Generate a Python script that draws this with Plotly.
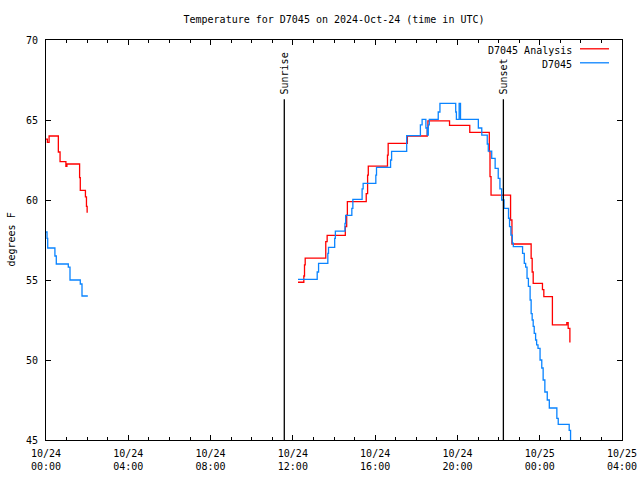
import plotly.graph_objects as go

# ---- data ----
analysis_day1_t = ["00:00", "00:04", "00:09", "00:36", "00:41", "00:58", "01:01", "01:38", "01:40", "01:55", "01:58", "02:00"]
analysis_day1_v = [63.8, 63.6, 64.0, 63.0, 62.4, 62.1, 62.25, 61.4, 60.6, 60.2, 59.6, 59.2]

analysis_day1b_t = ["12:15", "12:32", "12:34", "12:36", "13:36", "13:40", "14:33", "14:37", "14:39", "15:34", "15:38", "15:40",
                    "16:36", "16:38", "17:34", "18:32", "18:34", "19:37", "20:36", "21:33", "21:35", "21:38", "22:35", "22:39",
                    "23:35", "23:38", "23:41"]
analysis_day1b_v = [54.86, 55.25, 55.94, 56.37, 57.4, 57.79, 58.33, 59.06, 59.9, 60.4, 61.56, 62.12,
                    62.8, 63.54, 64.0, 64.5, 64.94, 64.66, 64.23, 63.02, 61.46, 60.3, 58.75, 57.25,
                    56.35, 55.5, 54.79]
analysis_day2_t = ["00:08", "00:12", "00:37", "01:19", "01:23", "01:28"]
analysis_day2_v = [54.4, 53.96, 52.19, 52.33, 51.98, 51.1]

obs_day1_t = ["00:00", "00:03", "00:05", "00:26", "00:30", "01:05", "01:10", "01:40", "01:45", "02:02"]
obs_day1_v = [58.0, 57.6, 57.0, 56.5, 56.0, 55.8, 55.0, 54.75, 54.0, 54.0]

obs_day1b_t = ["12:15", "13:11", "13:15", "13:42", "13:44", "14:02", "14:04", "14:32", "14:34", "14:52", "14:55",
               "15:22", "15:25", "16:02", "16:04", "16:45", "16:48", "17:32", "18:12", "18:17", "18:28", "18:32",
               "18:35", "18:38", "19:04", "19:09", "19:55", "19:57", "20:05", "20:09", "21:01", "21:11", "21:27",
               "21:30", "21:40", "21:50", "21:59", "22:04", "22:09", "22:16", "22:29", "22:32", "22:36", "22:40",
               "22:43", "23:10", "23:15", "23:19", "23:23", "23:27", "23:32", "23:35", "23:38", "23:41", "23:44",
               "23:48", "23:51", "23:55"]
obs_day1b_v = [55.04, 55.5, 56.04, 56.67, 57.04, 57.6, 58.06, 58.54, 59.04, 59.48, 60.04,
               60.7, 61.04, 61.56, 62.04, 62.5, 63.04, 64.02, 64.7, 65.04, 64.5, 64.06,
               64.7, 65.04, 65.5, 66.04, 65.5, 65.04, 66.04, 65.04, 64.5, 64.06, 63.5,
               63.06, 62.6, 61.98, 61.35, 60.7, 60.0, 59.48, 58.86, 58.33, 57.8, 57.3,
               57.08, 56.67, 56.04, 55.8, 55.1, 54.6, 53.75, 52.9, 52.5, 52.1, 51.67,
               51.25, 50.94, 50.73]
obs_day2_t = ["00:01", "00:06", "00:10", "00:15", "00:22", "00:28", "00:50", "00:54", "01:26", "01:30"]
obs_day2_v = [50.0, 49.5, 48.75, 48.0, 47.5, 47.0, 46.35, 45.98, 45.6, 44.8]

sunrise_time = "2024-10-24 11:35"
sunset_time = "2024-10-24 22:14"
marker_top = 66.3

y_ticks = [45, 50, 55, 60, 65, 70]

D1 = "2024-10-24 "
D2 = "2024-10-25 "


def build(t1, v1, t1b, v1b, t2, v2):
    xs = [D1 + t for t in t1] + [D1 + "06:00"] + [D1 + t for t in t1b] + [D2 + t for t in t2]
    ys = list(v1) + [None] + list(v1b) + list(v2)
    return xs, ys


ax, ay = build(analysis_day1_t, analysis_day1_v, analysis_day1b_t, analysis_day1b_v, analysis_day2_t, analysis_day2_v)
ox, oy = build(obs_day1_t, obs_day1_v, obs_day1b_t, obs_day1b_v, obs_day2_t, obs_day2_v)

RED = "#ff0000"
BLUE = "#0a84ff"
FONT = "DejaVu Sans Mono"

fig = go.Figure()
fig.add_trace(go.Scatter(x=ax, y=ay, mode="lines", name="D7045 Analysis",
                         line=dict(color=RED, width=1.3, shape="hv"), connectgaps=False))
fig.add_trace(go.Scatter(x=ox, y=oy, mode="lines", name="D7045",
                         line=dict(color=BLUE, width=1.3, shape="hv"), connectgaps=False))

for t, label in [(sunrise_time, "Sunrise"), (sunset_time, "Sunset")]:
    fig.add_shape(type="line", xref="x", yref="y", x0=t, x1=t, y0=45, y1=marker_top,
                  line=dict(color="black", width=1.3))
    fig.add_annotation(x=t, y=marker_top, xref="x", yref="y", text=label, textangle=-90,
                       showarrow=False, yanchor="bottom", xanchor="center", yshift=3,
                       font=dict(family=FONT, size=10, color="black"))

# gnuplot-style key: text then line sample on the right
for i, (name, col) in enumerate([("D7045 Analysis", RED), ("D7045", BLUE)]):
    ypix = 50 + 14 * i
    yp = 1 - (ypix - 40) / 400
    fig.add_annotation(x=(574 - 46) / 576, y=yp, xref="paper", yref="paper", text=name,
                       showarrow=False, xanchor="right", yanchor="middle",
                       font=dict(family=FONT, size=10, color="black"))
    fig.add_shape(type="line", xref="paper", yref="paper",
                  x0=(580 - 46) / 576, x1=(609 - 46) / 576, y0=yp + 0.003, y1=yp + 0.003,
                  line=dict(color=col, width=1.3))

fig.add_annotation(x=0, y=0.5, xref="paper", yref="paper", text="degrees F", textangle=-90,
                   showarrow=False, xshift=-43, font=dict(family=FONT, size=10, color="black"))

fig.update_layout(
    width=640, height=480,
    margin=dict(l=46, r=18, t=40, b=40, autoexpand=False),
    paper_bgcolor="white", plot_bgcolor="white",
    showlegend=False,
    title=dict(text="Temperature for D7045 on 2024-Oct-24 (time in UTC)", x=0.5, xref="paper",
               xanchor="center", y=1 - 19 / 480, yanchor="middle", yref="container",
               font=dict(family=FONT, size=10, color="black")),
    font=dict(family=FONT, size=10, color="black"),
)
fig.update_xaxes(type="date", range=["2024-10-24 00:00", "2024-10-25 04:00"], automargin=False,
                 tick0="2024-10-24 00:00", dtick=4 * 3600 * 1000, tickformat="%m/%d<br>%H:%M",
                 ticks="inside", ticklen=5, tickcolor="black", showline=True, linecolor="black",
                 linewidth=1, mirror="allticks", showgrid=False, zeroline=False, ticklabelstandoff=4,
                 minor=dict(dtick=3600 * 1000, ticks="inside", ticklen=3, tickcolor="black", showgrid=False),
                 tickfont=dict(family=FONT, size=10, color="black"))
fig.update_yaxes(range=[45, 70], tickvals=y_ticks, ticks="inside", ticklen=5, tickcolor="black", automargin=False,
                 showline=True, linecolor="black", linewidth=1, mirror="allticks", showgrid=False,
                 zeroline=False, ticklabelstandoff=5, tickfont=dict(family=FONT, size=10, color="black"))

fig.write_html("out.html", config={"displayModeBar": False},
               post_script="document.body.style.margin='0';document.body.style.overflow='hidden';")
